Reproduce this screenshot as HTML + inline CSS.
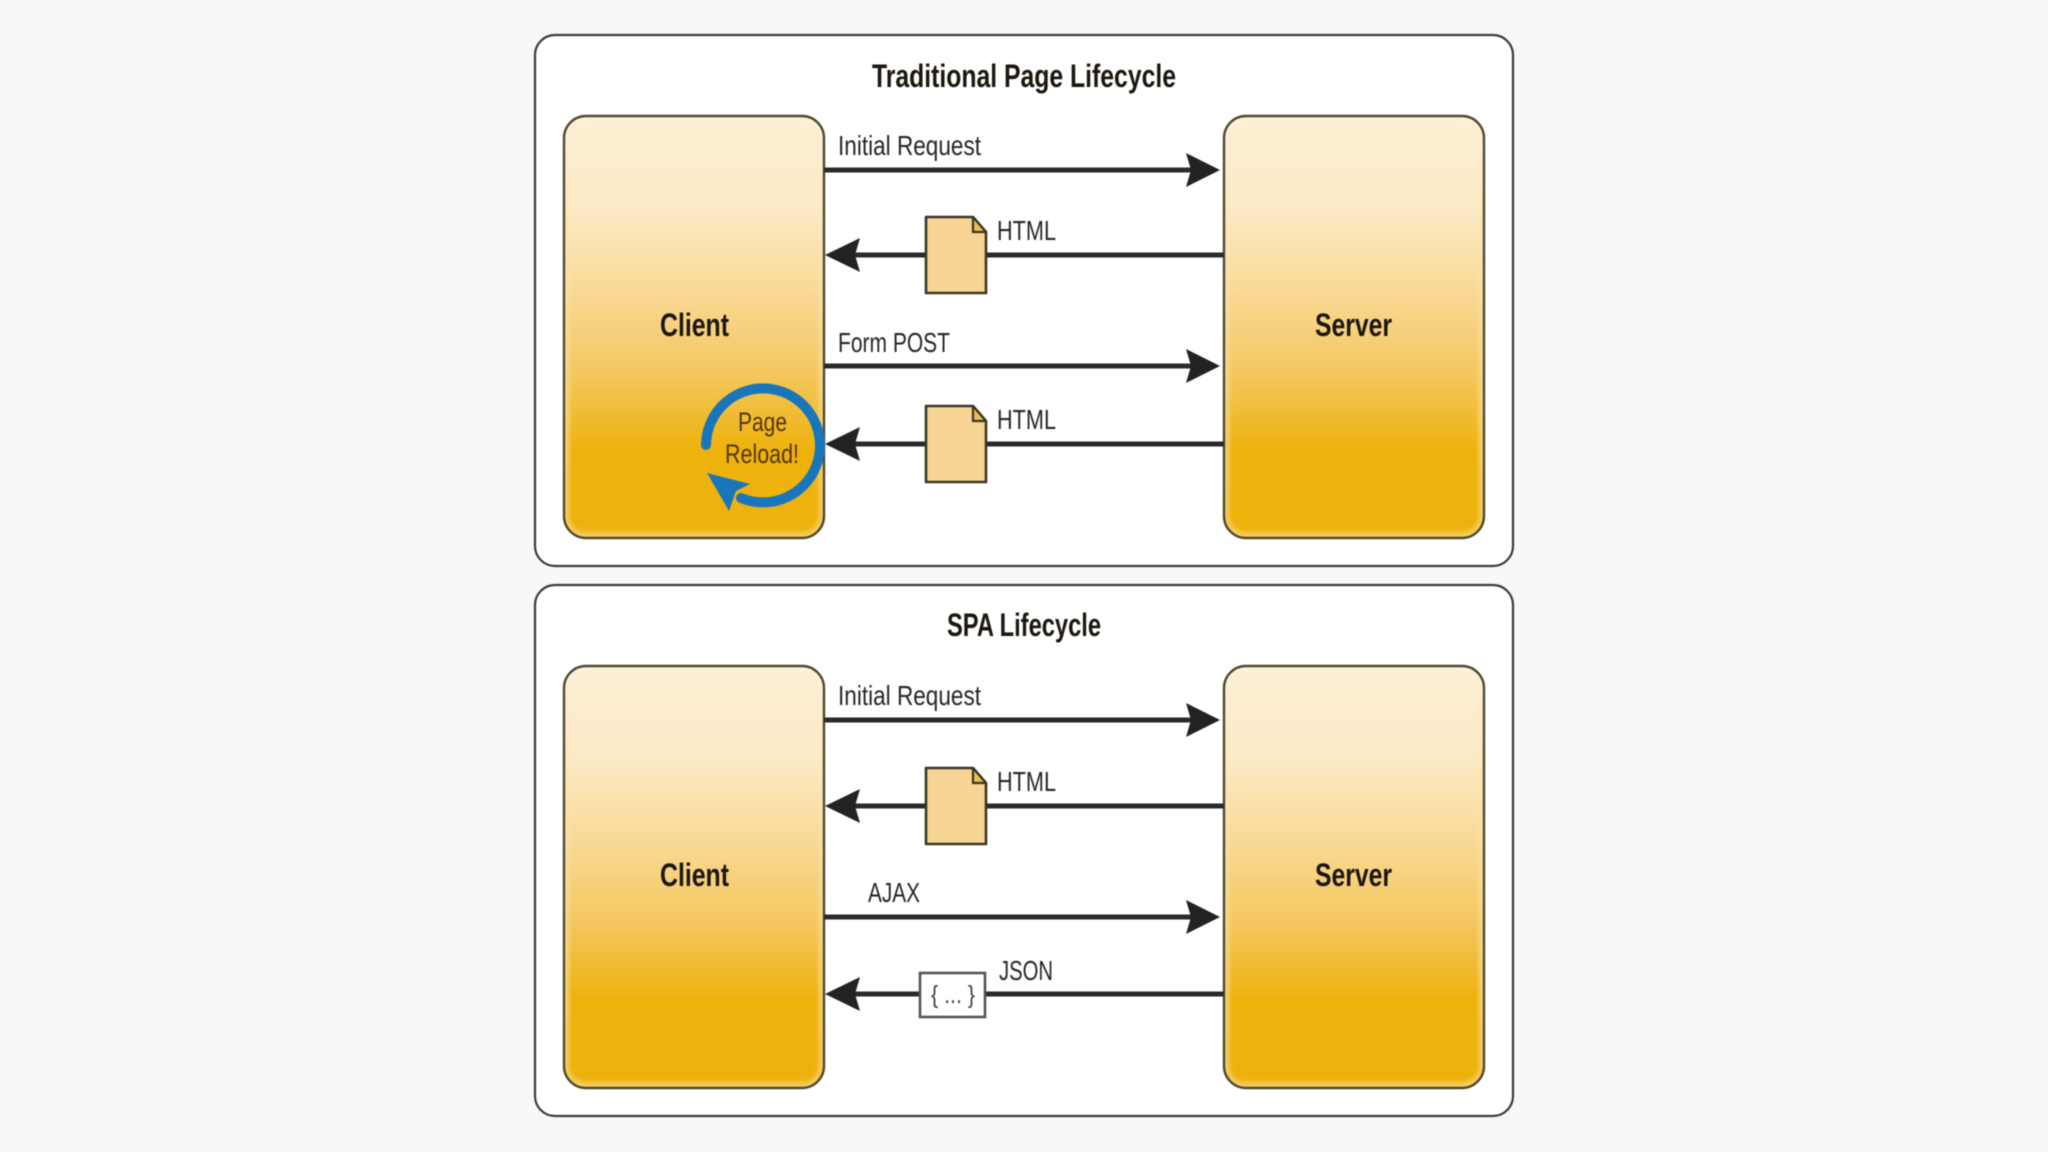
<!DOCTYPE html>
<html><head><meta charset="utf-8"><style>
html,body{margin:0;padding:0;background:#f8f8f8;width:2048px;height:1152px;overflow:hidden}
svg{display:block;filter:blur(.6px)}
text{font-family:"Liberation Sans",sans-serif;fill:#262626;font-size:28px}
.b{font-weight:bold;fill:#1c170f;font-size:32px}
</style></head><body>
<svg width="2048" height="1152" viewBox="0 0 2048 1152" xmlns="http://www.w3.org/2000/svg">
<defs>
<linearGradient id="g" x1="0" y1="0" x2="0" y2="1">
<stop offset="0" stop-color="#fdeed3"/><stop offset=".2" stop-color="#fcebc8"/><stop offset=".45" stop-color="#f8d68c"/><stop offset=".62" stop-color="#f4c65c"/><stop offset=".8" stop-color="#eeb20e"/><stop offset="1" stop-color="#eeb20e"/>
</linearGradient>
<linearGradient id="r" x1="0" y1="0" x2="0" y2="1">
<stop offset="0" stop-color="#fdf2dc"/><stop offset=".5" stop-color="#f9dc9a"/><stop offset="1" stop-color="#f5cc5e"/>
</linearGradient>
<filter id="s" x="-5%" y="-5%" width="110%" height="110%"><feGaussianBlur stdDeviation="2"/></filter>
<g id="box">
<rect x="0" y="0" width="260" height="422" rx="22" fill="url(#r)"/>
<rect x="5" y="5" width="250" height="411" rx="16" fill="url(#g)" filter="url(#s)"/>
<rect x="0" y="0" width="260" height="422" rx="22" fill="none" stroke="#50482f" stroke-width="2.4"/>
</g>
<g id="doc">
<path d="M0 0H47L60 15V76H0Z" fill="#f8d595" stroke="#3a3626" stroke-width="2.6" stroke-linejoin="round"/>
<path d="M47 0L60 15H47Z" fill="#eebd55" stroke="#3a3626" stroke-width="2.2" stroke-linejoin="round"/>
</g>
<path id="ar" d="M1220 0L1186 -17L1191 0L1186 17Z" fill="#222"/>
<path id="al" d="M825 0L860 -17L855 0L860 17Z" fill="#222"/>
</defs>

<!-- top panel -->
<rect x="535" y="35" width="978" height="531" rx="20" fill="#fff" stroke="#3c3c40" stroke-width="2.2"/>
<text class="b" x="872" y="87" textLength="304" lengthAdjust="spacingAndGlyphs">Traditional Page Lifecycle</text>
<use href="#box" x="564" y="116"/>
<use href="#box" x="1224" y="116"/>
<text class="b" x="660" y="336" textLength="69" lengthAdjust="spacingAndGlyphs">Client</text>
<text class="b" x="1315" y="336" textLength="77" lengthAdjust="spacingAndGlyphs">Server</text>

<rect x="824" y="167.500" width="370" height="5" fill="#2a2a2a"/><use href="#ar" y="170"/>
<text x="838" y="155" textLength="143" lengthAdjust="spacingAndGlyphs">Initial Request</text>
<rect x="855" y="252.500" width="369" height="5" fill="#2a2a2a"/><use href="#al" y="255"/>
<use href="#doc" x="926" y="217"/>
<text x="997" y="240" textLength="59" lengthAdjust="spacingAndGlyphs">HTML</text>
<rect x="824" y="363.500" width="370" height="5" fill="#2a2a2a"/><use href="#ar" y="366"/>
<text x="838" y="352" textLength="112" lengthAdjust="spacingAndGlyphs">Form POST</text>
<rect x="855" y="441.500" width="369" height="5" fill="#2a2a2a"/><use href="#al" y="444"/>
<use href="#doc" x="926" y="406"/>
<text x="997" y="429" textLength="59" lengthAdjust="spacingAndGlyphs">HTML</text>

<path d="M706 445A57 57 0 1 1 741 498" fill="none" stroke="#1a76bb" stroke-width="10" stroke-linecap="round"/>
<path d="M707 473L750 484L736 491L729 511Z" fill="#1a76bb"/>
<text x="738" y="431" textLength="49" lengthAdjust="spacingAndGlyphs" style="fill:#553610;font-size:27px">Page</text>
<text x="725" y="463" textLength="74" lengthAdjust="spacingAndGlyphs" style="fill:#553610;font-size:27px">Reload!</text>

<!-- bottom panel -->
<rect x="535" y="585" width="978" height="531" rx="20" fill="#fff" stroke="#3c3c40" stroke-width="2.2"/>
<text class="b" x="947" y="636" textLength="154" lengthAdjust="spacingAndGlyphs">SPA Lifecycle</text>
<use href="#box" x="564" y="666"/>
<use href="#box" x="1224" y="666"/>
<text class="b" x="660" y="886" textLength="69" lengthAdjust="spacingAndGlyphs">Client</text>
<text class="b" x="1315" y="886" textLength="77" lengthAdjust="spacingAndGlyphs">Server</text>

<rect x="824" y="717.500" width="370" height="5" fill="#2a2a2a"/><use href="#ar" y="720"/>
<text x="838" y="705" textLength="143" lengthAdjust="spacingAndGlyphs">Initial Request</text>
<rect x="855" y="803.500" width="369" height="5" fill="#2a2a2a"/><use href="#al" y="806"/>
<use href="#doc" x="926" y="768"/>
<text x="997" y="791" textLength="59" lengthAdjust="spacingAndGlyphs">HTML</text>
<rect x="824" y="914.500" width="370" height="5" fill="#2a2a2a"/><use href="#ar" y="917"/>
<text x="868" y="902" textLength="52" lengthAdjust="spacingAndGlyphs">AJAX</text>
<rect x="855" y="991.500" width="369" height="5" fill="#2a2a2a"/><use href="#al" y="994"/>
<rect x="920" y="973" width="65" height="44" fill="#fff" stroke="#55554f" stroke-width="2.6"/>
<text x="931" y="1003" textLength="44" lengthAdjust="spacingAndGlyphs" style="font-size:25px;fill:#444">{ ... }</text>
<text x="999" y="980" textLength="54" lengthAdjust="spacingAndGlyphs">JSON</text>
</svg>
</body></html>
